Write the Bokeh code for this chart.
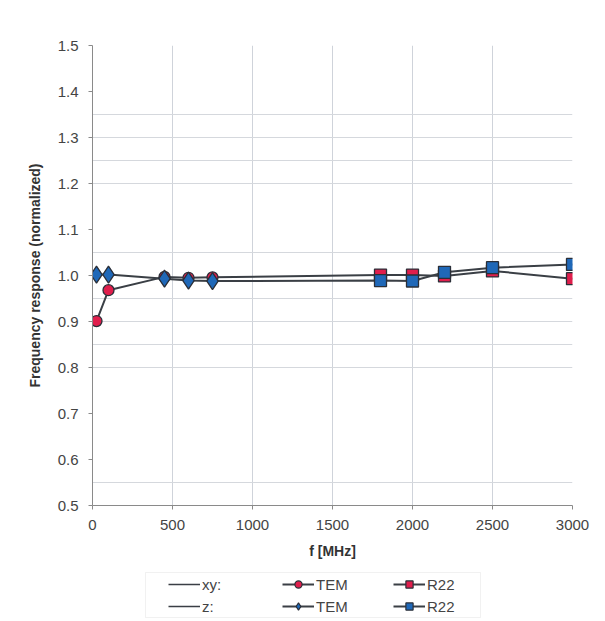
from bokeh.plotting import figure
from bokeh.layouts import column
from bokeh.models import (Range1d, FixedTicker, PrintfTickFormatter, Legend, LegendItem,
                          ColumnDataSource, BoxAnnotation)
from bokeh.embed import file_html
from bokeh.resources import INLINE

# ---- data ----
xy_tem_f = [25, 100, 450, 600, 750]
xy_tem_v = [0.901, 0.968, 0.997, 0.995, 0.996]
xy_r22_f = [1800, 2000, 2200, 2500, 3000]
xy_r22_v = [1.001, 1.001, 0.999, 1.010, 0.993]

z_tem_f = [25, 100, 450, 600, 750]
z_tem_v = [1.002, 1.002, 0.993, 0.989, 0.988]
z_r22_f = [1800, 2000, 2200, 2500, 3000]
z_r22_v = [0.989, 0.988, 1.007, 1.017, 1.024]

y_ticks = [0.5, 0.6, 0.7, 0.8, 0.9, 1.0, 1.1, 1.2, 1.3, 1.4, 1.5]
x_ticks = [0, 500, 1000, 1500, 2000, 2500, 3000]
y_grid_lines = [0.55, 0.8, 0.85, 0.9, 0.95, 1.05, 1.2, 1.25, 1.3, 1.35]

RED = "#e01e4c"
BLUE = "#1f68b8"
LINE = "#3a3f45"
OUT = "#2a2f38"
FONT = "Liberation Sans"

p = figure(width=605, height=565, output_backend="svg", toolbar_location=None,
           x_range=Range1d(0, 3000), y_range=Range1d(0.5, 1.5),
           min_border_left=92, min_border_right=33, min_border_top=45, min_border_bottom=60)
p.outline_line_color = None
p.background_fill_color = "white"
p.border_fill_color = "white"

# axes
for ax in (p.xaxis[0], p.yaxis[0]):
    ax.axis_line_color = "#8a8a8a"
    ax.major_tick_line_color = "#8a8a8a"
    ax.major_tick_in = 0
    ax.major_tick_out = 4
    ax.minor_tick_line_color = None
    ax.major_label_text_font = FONT
    ax.major_label_text_font_size = "15px"
    ax.major_label_text_color = "#444444"
    ax.axis_label_text_font = FONT
    ax.axis_label_text_font_size = "14px"
    ax.axis_label_text_font_style = "bold"
    ax.axis_label_text_color = "#333333"

p.xaxis.ticker = FixedTicker(ticks=x_ticks)
p.yaxis.ticker = FixedTicker(ticks=y_ticks)
p.yaxis.formatter = PrintfTickFormatter(format="%.1f")
p.xaxis.axis_label = "f [MHz]"
p.yaxis.axis_label = "Frequency response (normalized)"
p.xaxis.major_label_standoff = 10
p.yaxis.major_label_standoff = 10
p.xaxis.axis_label_standoff = 10
p.yaxis.axis_label_standoff = 12

p.xgrid.ticker = FixedTicker(ticks=x_ticks)
p.xgrid.grid_line_color = "#cfd3da"
p.xgrid.grid_line_width = 1
p.ygrid.ticker = FixedTicker(ticks=y_grid_lines)
p.ygrid.grid_line_color = "#d5d8dd"
p.ygrid.grid_line_width = 1

# series lines (TEM + R22 joined)
xy_f = xy_tem_f + xy_r22_f
xy_v = xy_tem_v + xy_r22_v
z_f = z_tem_f + z_r22_f
z_v = z_tem_v + z_r22_v
p.line(xy_f, xy_v, line_color=LINE, line_width=2)
p.line(z_f, z_v, line_color=LINE, line_width=2)

p.scatter(xy_tem_f, xy_tem_v, marker="circle", size=11, fill_color=RED, line_color=OUT, line_width=1.3)
p.scatter(xy_r22_f, xy_r22_v, marker="square", size=12, fill_color=RED, line_color=OUT, line_width=1.3)
p.scatter(z_tem_f, z_tem_v, marker="diamond", size=17, fill_color=BLUE, line_color=OUT, line_width=1.3)
p.scatter(z_r22_f, z_r22_v, marker="square", size=12, fill_color=BLUE, line_color=OUT, line_width=1.3)

# ---- legend strip (separate small figure, frame aligned with the main one;
#      its ranges are pixel-like so the box can be placed as layout) ----
lg = figure(width=605, height=56, output_backend="svg", toolbar_location=None,
            x_range=Range1d(92, 572), y_range=Range1d(56, 0),
            min_border_left=92, min_border_right=33, min_border_top=0, min_border_bottom=0)
lg.axis.visible = False
lg.grid.visible = False
lg.outline_line_color = None
lg.border_fill_color = "white"

lg.add_layout(BoxAnnotation(left=145, right=480, top=7, bottom=52,
                            fill_alpha=0.0, line_color="#cfcfcf", line_width=1))

def off_src():
    # legend-only renderers: a point outside the visible range
    return ColumnDataSource(dict(x=[-500], y=[-500]))

l_xy = lg.line("x", "y", source=off_src(), line_color=LINE, line_width=1.5)
l_z = lg.line("x", "y", source=off_src(), line_color=LINE, line_width=1.5)
lt1 = lg.line("x", "y", source=off_src(), line_color=LINE, line_width=2)
mt1 = lg.scatter("x", "y", source=off_src(), marker="circle", size=11,
                 fill_color=RED, line_color=OUT, line_width=1.2)
lr1 = lg.line("x", "y", source=off_src(), line_color=LINE, line_width=2)
mr1 = lg.scatter("x", "y", source=off_src(), marker="square", size=11,
                 fill_color=RED, line_color=OUT, line_width=1.2)
lt2 = lg.line("x", "y", source=off_src(), line_color=LINE, line_width=2)
mt2 = lg.scatter("x", "y", source=off_src(), marker="diamond", size=15,
                 fill_color=BLUE, line_color=OUT, line_width=1.2)
lr2 = lg.line("x", "y", source=off_src(), line_color=LINE, line_width=2)
mr2 = lg.scatter("x", "y", source=off_src(), marker="square", size=11,
                 fill_color=BLUE, line_color=OUT, line_width=1.2)

legend_cols = [
    ([("xy:", [l_xy]), ("z:", [l_z])], 76),
    ([("TEM", [lt1, mt1]), ("TEM", [lt2, mt2])], 190),
    ([("R22", [lr1, mr1]), ("R22", [lr2, mr2])], 301),
]
for entries, xoff in legend_cols:
    leg = Legend(items=[LegendItem(label=t, renderers=r) for t, r in entries],
                 location=(xoff, 6), orientation="vertical",
                 label_text_font=FONT, label_text_font_size="15px", label_text_color="#444444",
                 glyph_width=32, glyph_height=18, label_standoff=2, spacing=4,
                 padding=0, margin=0, border_line_color=None,
                 background_fill_alpha=0.0, label_height=18)
    lg.add_layout(leg, "center")

layout = column(p, lg, spacing=0)
open("out.html", "w").write(file_html(layout, INLINE))
